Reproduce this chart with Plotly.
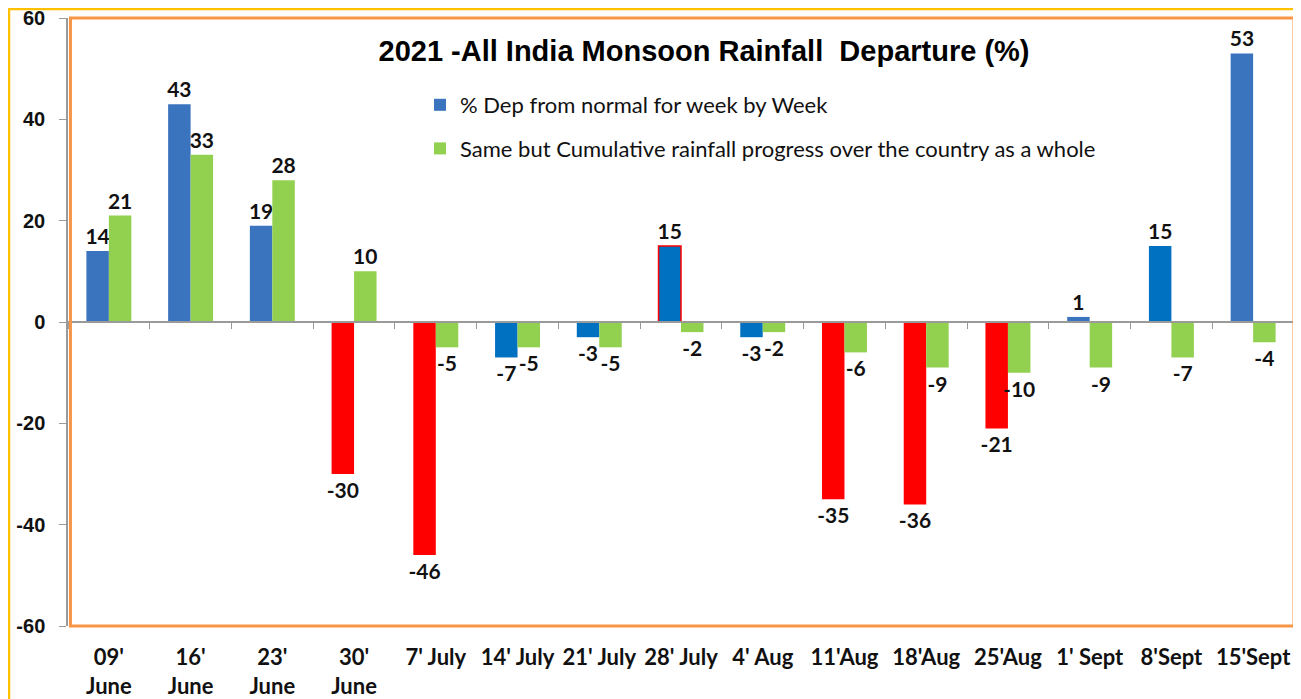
import plotly.graph_objects as go

# ---- data ----
weeks = ["09'<br>June", "16'<br>June", "23'<br>June", "30'<br>June", "7' July", "14' July",
         "21' July", "28' July", "4' Aug", "11'Aug", "18'Aug", "25'Aug", "1' Sept",
         "8'Sept", "15'Sept"]
weekly_dep = [14, 43, 19, -30, -46, -7, -3, 15, -3, -35, -36, -21, 1, 15, 53]
cumulative_dep = [21, 33, 28, 10, -5, -5, -5, -2, -2, -6, -9, -10, -9, -7, -4]
series_names = ["% Dep from normal for week by Week",
                "Same but Cumulative rainfall progress over the country as a whole"]
title_text = "2021 -All India Monsoon Rainfall  Departure (%)"
y_ticks = [-60, -40, -20, 0, 20, 40, 60]
y_tick_text = ["-60", "-40", "-20", "0", "20", "40", "60"]

# ---- styles ----
GRAD_BLUE = "#3A73BE"
SOLID_BLUE = "#0070C0"
RED = "#FF0000"
GREEN = "#92D050"
weekly_colors = [GRAD_BLUE, GRAD_BLUE, GRAD_BLUE, RED, RED, SOLID_BLUE, SOLID_BLUE, SOLID_BLUE,
                 SOLID_BLUE, RED, RED, RED, GRAD_BLUE, SOLID_BLUE, GRAD_BLUE]
weekly_line_colors = ["rgba(0,0,0,0)"] * 7 + [RED] + ["rgba(0,0,0,0)"] * 7
weekly_line_widths = [0] * 7 + [1.5] + [0] * 7

LABEL_FONT = dict(family="Lato, Open Sans, sans-serif", size=21, color="#111111", weight="bold")

# the page body adds an 8px offset, so the figure is 8px smaller than the window
W, H = 1293, 691
ML, MR, MT, MB = 60, 7, 10, 73
PW, PH = W - ML - MR, H - MT - MB
n = len(weeks)

fig = go.Figure()
fig.add_trace(go.Bar(
    x=weeks, y=weekly_dep, name=series_names[0], legendgroup="a",
    marker=dict(color=weekly_colors, line=dict(color=weekly_line_colors, width=weekly_line_widths)),
    text=[str(v) for v in weekly_dep], textposition="outside", textfont=LABEL_FONT,
    constraintext="none", cliponaxis=False,
))
fig.add_trace(go.Bar(
    x=weeks, y=cumulative_dep, name=series_names[1], legendgroup="b",
    marker=dict(color=GREEN, line=dict(width=0)),
    text=[str(v) for v in cumulative_dep], textposition="outside", textfont=LABEL_FONT,
    constraintext="none", cliponaxis=False,
))
# helper trace for the bottom category-label axis
fig.add_trace(go.Scatter(x=weeks, y=[0] * n, xaxis="x2", mode="markers",
                         marker=dict(opacity=0, size=1), showlegend=False, hoverinfo="skip"))

fig.update_layout(
    width=W, height=H,
    margin=dict(l=ML, r=MR, t=MT, b=MB, autoexpand=False),
    paper_bgcolor="white", plot_bgcolor="white",
    barmode="group", bargap=0.45, bargroupgap=0,
    title=dict(text=title_text, x=696 / W, xanchor="center", y=1 - 43 / H, yanchor="middle",
               font=dict(family="Liberation Sans Narrow, Liberation Sans, Arial", size=29,
                         color="black", weight="bold")),
    legend=dict(x=(412 - ML) / PW, y=(H - MB - 76) / PH, xanchor="left", yanchor="top",
                bgcolor="rgba(0,0,0,0)", tracegroupgap=12, traceorder="grouped",
                font=dict(family="Lato, Open Sans, sans-serif", size=22, color="#111111")),
    xaxis=dict(anchor="free", position=0.5, range=[-0.5, n - 0.5], automargin=False,
               showline=True, linecolor="#9A9A9A", linewidth=1.5,
               ticks="outside", tickson="boundaries", ticklen=6, tickcolor="#9A9A9A",
               showticklabels=False, showgrid=False, zeroline=False),
    xaxis2=dict(overlaying="x", matches="x", anchor="y", side="bottom", showline=False,
                automargin=False, showgrid=False, zeroline=False, ticks="",
                ticklabelstandoff=16, ticklabeloverflow="allow",
                tickfont=dict(family="Lato, Open Sans, sans-serif", size=22, color="#111111",
                              weight="bold")),
    yaxis=dict(range=[-60, 60], tickvals=y_ticks, ticktext=y_tick_text, automargin=False,
               showgrid=False, zeroline=False, ticklabeloverflow="allow",
               showline=True, linecolor="#9A9A9A", linewidth=1.5, ticks="outside", ticklen=7,
               tickcolor="#9A9A9A", ticklabelstandoff=10,
               tickfont=dict(family="Liberation Sans, Arial", size=20, color="#111111",
                             weight="bold")),
    shapes=[
        dict(type="rect", xref="paper", yref="paper", x0=0.002, x1=1.0, y0=0, y1=1,
             line=dict(color="#F79646", width=3), layer="above"),
        dict(type="rect", xref="paper", yref="paper", x0=(1 - ML) / PW, x1=(1288 - ML) / PW,
             y0=(H - MB - 720) / PH, y1=(H - MB - 1) / PH,
             line=dict(color="#FFC000", width=2.5)),
    ],
)

fig.write_html("out.html")
